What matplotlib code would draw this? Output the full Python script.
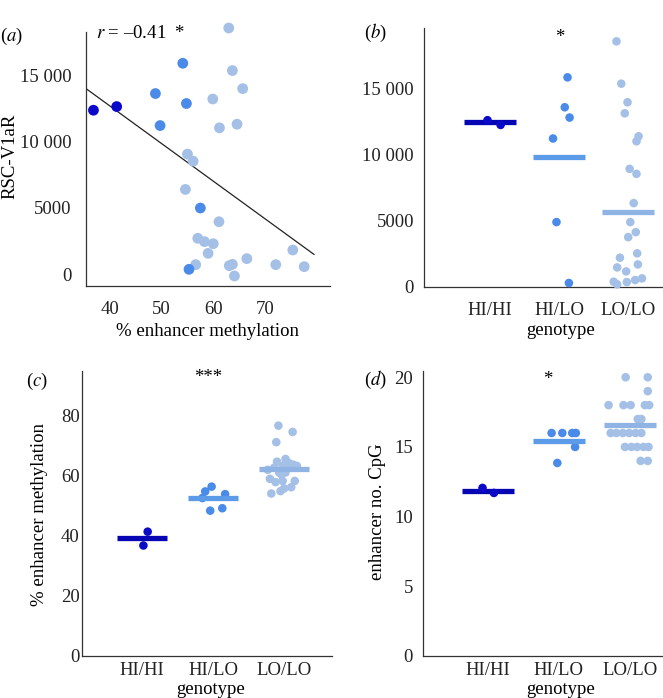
import numpy as np
import matplotlib
matplotlib.use("Agg")
import matplotlib.pyplot as plt

plt.rcParams['font.family'] = ['Liberation Serif', 'DejaVu Serif']
plt.rcParams['mathtext.fontset'] = 'stix'

# ---------------- data ----------------
genotypes = ['HI/HI', 'HI/LO', 'LO/LO']
colors_pt = ['#0a0ac8', '#4a8ae8', '#a4c0e6']
colors_bar = ['#0505b4', '#5b9be8', '#8fb3e2']

# panel (a): methylation vs RSC-V1aR per group
a_meth_hihi = [36.8, 41.3]
a_rsc_hihi = [12355, 12630]
a_meth_hilo = [54.1, 48.8, 54.8, 49.7, 57.5, 55.3]
a_rsc_hilo = [15890, 13610, 12860, 11200, 4990, 376]
a_meth_lolo = [63.0, 63.7, 65.7, 59.9, 61.2, 64.6, 55.0, 56.1, 54.6, 61.1, 57.0,
               58.3, 60.0, 59.0, 56.6, 63.1, 63.7, 64.1, 66.5, 72.1, 75.4, 77.6]
a_rsc_lolo = [18545, 15340, 13980, 13200, 11030, 11300, 9050, 8520, 6390, 3960, 2710,
              2460, 2305, 1580, 727, 650, 750, -125, 1180, 727, 1830, 576]
fit_x = [35.3, 79.5]
fit_y = [14000, 1500]
r_text = '$r$ = –0.41  *'

# panel (b): RSC-V1aR by genotype
b_hihi = [12630, 12270]
b_hilo = [15880, 13610, 12830, 11240, 4900, 280]
b_lolo = [18610, 15400, 13990, 13150, 11410, 11030, 8940, 8560, 6340, 4900, 4140,
          3760, 2530, 2200, 1690, 1460, 1160, 380, 180, 350, 505, 630]
b_means = [12530, 9870, 5630]
b_jit_hihi = [-0.04, 0.15]
b_jit_hilo = [0.12, 0.08, 0.15, -0.09, -0.04, 0.14]
b_jit_lolo = [-0.17, -0.10, -0.01, -0.05, 0.15, 0.12, 0.02, 0.12, 0.08, 0.03, 0.11,
              0.00, 0.13, -0.12, 0.14, -0.16, -0.03, -0.21, -0.16, -0.02, 0.10, 0.20]

# panel (c): % enhancer methylation by genotype
c_hihi = [41.4, 36.8]
c_hilo = [56.4, 54.8, 53.9, 48.4, 49.2, 52.6]
c_lolo = [76.7, 74.6, 71.2, 64.7, 65.6, 64.2, 63.7, 63.3, 62.0, 61.1, 61.1,
          59.0, 58.3, 57.9, 58.3, 56.2, 55.8, 54.9, 54.1, 62.7, 63.3, 60.5]
c_means = [39.3, 52.7, 62.3]
c_jit_hihi = [0.08, 0.02]
c_jit_hilo = [-0.02, -0.11, 0.17, -0.04, 0.13, -0.15]
c_jit_lolo = [-0.08, 0.12, -0.11, -0.10, 0.02, 0.07, 0.13, 0.18, -0.23, -0.07, 0.02,
              -0.20, -0.02, -0.12, 0.15, 0.10, 0.00, -0.05, -0.18, -0.14, -0.02, -0.04]

# panel (d): enhancer no. CpG by genotype
d_hihi = [12.06, 11.70]
d_hilo = [16.0, 16.0, 16.0, 16.0, 15.0, 13.85]
d_lolo = [20, 20, 19, 18, 18, 18, 18, 18, 17, 17, 16, 16, 16, 16, 16, 16,
          15, 15, 15, 15, 15, 14, 14]
d_means = [11.87, 15.43, 16.56]
d_jit_hihi = [-0.07, 0.09]
d_jit_hilo = [-0.10, 0.05, 0.19, 0.24, 0.23, -0.02]
d_jit_lolo = [-0.06, 0.25, 0.25, -0.30, -0.09, 0.01, 0.21, 0.27, 0.11, 0.16,
              -0.27, -0.19, -0.10, -0.01, 0.08, 0.16, -0.07, 0.02, 0.10, 0.19, 0.26,
              0.15, 0.25]

# ---------------- figure ----------------
W, H = 663, 698
fig = plt.figure(figsize=(W / 100, H / 100), dpi=100)

TFS = 13.5   # tick labels
FS = 13.5    # axis labels / annotations


def ax_px(left, top, right, bottom):
    ax = fig.add_axes([left / W, 1 - bottom / H, (right - left) / W, (bottom - top) / H])
    ax._px = (left, top, right, bottom)
    return ax


def style(ax):
    for s in ['top', 'right']:
        ax.spines[s].set_visible(False)
    for s in ['left', 'bottom']:
        ax.spines[s].set_color('#333333')
        ax.spines[s].set_linewidth(0.9)
    ax.tick_params(length=0, labelsize=TFS, colors='#222222')


def place_xlabel(ax, text, px_x, px_y, fs=FS):
    l, t, r, b = ax._px
    ax.set_xlabel(text, fontsize=fs)
    ax.xaxis.label.set_va('center')
    ax.xaxis.set_label_coords((px_x - l) / (r - l), -(px_y - b) / (b - t))


def place_ylabel(ax, text, px_x, px_y, fs=FS):
    l, t, r, b = ax._px
    ax.set_ylabel(text, fontsize=fs)
    ax.yaxis.label.set_va('center')
    ax.yaxis.set_label_coords((px_x - l) / (r - l), (b - px_y) / (b - t))


def fmt_thousands(v):
    v = int(round(v))
    if v >= 10000:
        return f'{v // 1000} {v % 1000:03d}'
    return str(v)


# panel a
axa = ax_px(85.7, 32, 330, 285.7)
style(axa)
axa.set_xlim(35.3, 82.6)
axa.set_ylim(-858, 18245)
axa.plot(fit_x, fit_y, color='#222222', lw=0.9)
for xs, ys, c in [(a_meth_lolo, a_rsc_lolo, colors_pt[2]),
                  (a_meth_hilo, a_rsc_hilo, colors_pt[1]),
                  (a_meth_hihi, a_rsc_hihi, colors_pt[0])]:
    axa.scatter(xs, ys, s=60, color=c, edgecolors='none', clip_on=False, zorder=3)
axa.set_xticks([40, 50, 60, 70])
axa.set_yticks([0, 5000, 10000, 15000])
axa.set_yticklabels([fmt_thousands(v) for v in [0, 5000, 10000, 15000]])
axa.tick_params(axis='x', pad=11)
axa.tick_params(axis='y', pad=10)
place_xlabel(axa, '% enhancer methylation', 208, 331.5)
place_ylabel(axa, 'RSC-V1aR', 10, 156.7)
fig.text(96 / W, 1 - 34 / H, r_text, fontsize=FS, ha='left', va='center')
fig.text(0 / W, 1 - 36 / H, '($a$)', fontsize=FS, ha='left', va='center')


def strip_panel(ax, groups, jits, means, bw, s):
    for i, (vals, jit) in enumerate(zip(groups, jits)):
        xs = [i + j for j in jit]
        ax.scatter(xs, vals, s=s, color=colors_pt[i], edgecolors='none', zorder=3, clip_on=False)
        ax.plot([i - bw / 2, i + bw / 2], [means[i], means[i]], color=colors_bar[i],
                lw=3.8, solid_capstyle='butt', zorder=2 if i == 0 else 4)
    ax.set_xticks(range(3))
    ax.set_xticklabels(genotypes)


# panel b
axb = ax_px(423.7, 28.3, 662.7, 286.7)
style(axb)
strip_panel(axb, [b_hihi, b_hilo, b_lolo], [b_jit_hihi, b_jit_hilo, b_jit_lolo], b_means, 0.76, 38)
axb.set_xlim(-0.965, 2.5)
axb.set_ylim(0, 19600)
axb.set_yticks([0, 5000, 10000, 15000])
axb.set_yticklabels([fmt_thousands(v) for v in [0, 5000, 10000, 15000]])
axb.tick_params(axis='x', pad=11)
axb.tick_params(axis='y', pad=7)
place_xlabel(axb, 'genotype', 560.3, 330.5)
fig.text(559.3 / W, 1 - 38 / H, '*', fontsize=FS, ha='center', va='center')
fig.text(364 / W, 1 - 33 / H, '($b$)', fontsize=FS, ha='left', va='center')

# panel c
axc = ax_px(82.3, 370.7, 331.7, 656)
style(axc)
strip_panel(axc, [c_hihi, c_hilo, c_lolo], [c_jit_hihi, c_jit_hilo, c_jit_lolo], c_means, 0.71, 38)
axc.set_xlim(-0.84, 2.67)
axc.set_ylim(0, 95)
axc.set_yticks([0, 20, 40, 60, 80])
axc.tick_params(axis='x', pad=4)
axc.tick_params(axis='y', pad=2)
place_xlabel(axc, 'genotype', 211, 690)
place_ylabel(axc, '% enhancer methylation', 40, 514)
fig.text(208 / W, 1 - 378 / H, '***', fontsize=FS, ha='center', va='center')
fig.text(26 / W, 1 - 381 / H, '($c$)', fontsize=FS, ha='left', va='center')

# panel d
axd = ax_px(422.7, 370.7, 662.7, 656)
style(axd)
strip_panel(axd, [d_hihi, d_hilo, d_lolo], [d_jit_hihi, d_jit_hilo, d_jit_lolo], d_means, 0.73, 38)
axd.set_xlim(-0.91, 2.46)
axd.set_ylim(0, 20.47)
axd.set_yticks([0, 5, 10, 15, 20])
axd.tick_params(axis='x', pad=4)
axd.tick_params(axis='y', pad=7)
place_xlabel(axd, 'genotype', 561, 690)
place_ylabel(axd, 'enhancer no. CpG', 378, 512)
fig.text(547.7 / W, 1 - 379 / H, '*', fontsize=FS, ha='center', va='center')
fig.text(364 / W, 1 - 380 / H, '($d$)', fontsize=FS, ha='left', va='center')

fig.savefig('out.png', dpi=100)
